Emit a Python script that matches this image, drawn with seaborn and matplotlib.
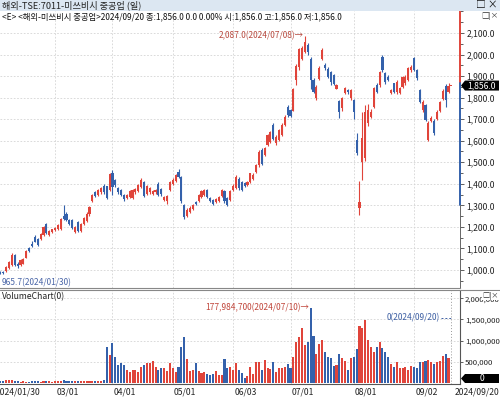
import numpy as np
import pandas as pd
import matplotlib
matplotlib.use("Agg")
import matplotlib.pyplot as plt
import matplotlib.ticker as mticker
import matplotlib.transforms as mtrans
from matplotlib.patches import Polygon, Rectangle
from matplotlib.lines import Line2D
import seaborn as sns

# 거래일 (도쿄 휴장일 제외) 2024/01/30 ~ 2024/09/20
holidays = ["2024-02-12", "2024-02-23", "2024-03-20", "2024-04-29", "2024-05-03",
            "2024-05-06", "2024-07-15", "2024-08-12", "2024-09-16"]
days = pd.bdate_range("2024-01-30", "2024-09-20", freq="C", holidays=holidays)

opens = [985, 978, 992, 990, 995, 1010, 1025, 1068, 1030, 1025,
         1030, 1058, 1100, 1122, 1155, 1145, 1142, 1162, 1212, 1162,
         1175, 1185, 1190, 1190, 1250, 1262, 1230, 1230, 1175, 1222,
         1182, 1215, 1228, 1258, 1318, 1362, 1348, 1360, 1392, 1388,
         1372, 1450, 1418, 1380, 1370, 1348, 1335, 1340, 1332, 1360,
         1365, 1385, 1410, 1355, 1360, 1355, 1360, 1400, 1375, 1325,
         1320, 1370, 1400, 1415, 1455, 1430, 1300, 1250, 1270, 1285,
         1315, 1320, 1340, 1350, 1370, 1335, 1325, 1315, 1320, 1345,
         1365, 1335, 1325, 1371, 1379, 1422, 1410, 1405, 1394, 1410,
         1422, 1456, 1485, 1557, 1534, 1580, 1595, 1673, 1588, 1603,
         1626, 1673, 1758, 1742, 1740, 1880, 1940, 1981, 2013, 2044,
         1981, 1881, 1796, 1888, 1981, 1953, 1935, 1920, 1904, 1842,
         1786, 1750, 1820, 1835, 1796, 1789, 1603, 1286, 1503, 1520,
         1680, 1711, 1758, 1858, 1858, 1990, 1912, 1897, 1820, 1866,
         1827, 1820, 1851, 1866, 1882, 1928, 1982, 1928, 1835, 1742,
         1765, 1603, 1690, 1690, 1700, 1738, 1795, 1856, 1828, 1856]
highs = [995, 992, 996, 994, 1020, 1040, 1078, 1075, 1035, 1050,
         1055, 1092, 1105, 1135, 1162, 1150, 1172, 1205, 1218, 1185,
         1192, 1200, 1215, 1240, 1302, 1268, 1235, 1235, 1205, 1228,
         1220, 1245, 1268, 1298, 1352, 1368, 1375, 1385, 1398, 1392,
         1450, 1462, 1422, 1385, 1375, 1352, 1355, 1372, 1378, 1380,
         1400, 1428, 1415, 1395, 1385, 1372, 1378, 1408, 1380, 1345,
         1350, 1415, 1425, 1445, 1470, 1435, 1305, 1290, 1295, 1305,
         1320, 1355, 1370, 1375, 1375, 1340, 1330, 1335, 1345, 1375,
         1370, 1340, 1370, 1398, 1440, 1430, 1415, 1410, 1415, 1452,
         1448, 1490, 1555, 1565, 1570, 1632, 1645, 1680, 1625, 1655,
         1680, 1718, 1765, 1748, 1845, 1955, 2032, 2040, 2087, 2055,
         1990, 1890, 1858, 1945, 2028, 1960, 1940, 1925, 1910, 1862,
         1790, 1805, 1850, 1840, 1840, 1795, 1634, 1415, 1734, 1765,
         1770, 1745, 1850, 1870, 1925, 2000, 1918, 1905, 1840, 1870,
         1880, 1850, 1900, 1905, 1940, 1950, 1990, 1932, 1840, 1790,
         1770, 1690, 1715, 1700, 1742, 1785, 1840, 1862, 1868, 1856]
lows = [965.7, 972, 982, 980, 990, 1005, 1020, 1020, 1010, 1020,
        1028, 1055, 1082, 1105, 1128, 1112, 1138, 1158, 1165, 1158,
        1170, 1180, 1185, 1185, 1230, 1228, 1210, 1190, 1170, 1175,
        1178, 1210, 1222, 1252, 1315, 1338, 1345, 1355, 1355, 1330,
        1368, 1350, 1385, 1355, 1345, 1322, 1330, 1335, 1328, 1355,
        1360, 1380, 1340, 1350, 1355, 1350, 1355, 1345, 1345, 1320,
        1305, 1365, 1395, 1410, 1425, 1310, 1238, 1245, 1265, 1280,
        1300, 1315, 1335, 1345, 1335, 1315, 1300, 1310, 1315, 1340,
        1310, 1295, 1320, 1365, 1375, 1372, 1365, 1385, 1390, 1405,
        1418, 1450, 1480, 1485, 1528, 1575, 1590, 1605, 1580, 1598,
        1620, 1668, 1712, 1710, 1736, 1860, 1930, 1975, 2005, 2000,
        1842, 1820, 1790, 1882, 1975, 1930, 1890, 1858, 1858, 1838,
        1705, 1740, 1815, 1818, 1790, 1703, 1535, 1255, 1417, 1505,
        1670, 1705, 1750, 1820, 1850, 1920, 1865, 1875, 1815, 1820,
        1815, 1815, 1845, 1860, 1875, 1920, 1925, 1880, 1775, 1735,
        1690, 1598, 1685, 1625, 1695, 1732, 1788, 1755, 1822, 1856]
closes = [975, 988, 986, 985, 1015, 1035, 1070, 1025, 1018, 1045,
          1050, 1088, 1088, 1110, 1132, 1118, 1168, 1200, 1172, 1180,
          1188, 1195, 1210, 1235, 1235, 1232, 1215, 1195, 1200, 1180,
          1215, 1240, 1262, 1294, 1348, 1342, 1370, 1380, 1360, 1335,
          1445, 1385, 1395, 1360, 1350, 1328, 1350, 1365, 1372, 1375,
          1395, 1420, 1345, 1390, 1380, 1368, 1372, 1350, 1355, 1340,
          1345, 1410, 1420, 1440, 1430, 1320, 1245, 1280, 1290, 1300,
          1305, 1350, 1365, 1370, 1340, 1320, 1305, 1330, 1340, 1370,
          1320, 1300, 1365, 1391, 1433, 1379, 1371, 1390, 1410, 1448,
          1443, 1485, 1549, 1490, 1564, 1626, 1639, 1610, 1618, 1649,
          1673, 1711, 1719, 1716, 1840, 1945, 2025, 2028, 2059, 2013,
          1881, 1827, 1850, 1938, 2020, 1938, 1896, 1873, 1865, 1857,
          1735, 1797, 1843, 1825, 1835, 1734, 1541, 1317, 1611, 1734,
          1742, 1734, 1843, 1827, 1920, 1928, 1874, 1882, 1835, 1827,
          1874, 1843, 1897, 1897, 1936, 1943, 1928, 1889, 1781, 1781,
          1696, 1680, 1705, 1635, 1735, 1778, 1832, 1790, 1852, 1856]
volumes = [60000, 55000, 45000, 50000, 75000, 80000, 70000, 55000, 40000, 35000,
           40000, 35000, 30000, 40000, 45000, 40000, 35000, 45000, 50000, 40000,
           35000, 40000, 38000, 45000, 60000, 55000, 45000, 50000, 42000, 45000,
           40000, 38000, 42000, 48000, 50000, 45000, 48000, 40000, 60000, 841000,
           660000, 936000, 620000, 425000, 464000, 425000, 306000, 267000, 306000, 306000,
           252000, 385000, 425000, 464000, 464000, 519000, 385000, 306000, 346000, 346000,
           283000, 464000, 346000, 252000, 385000, 856000, 1093000, 566000, 283000, 306000,
           464000, 283000, 228000, 267000, 204000, 189000, 204000, 283000, 189000, 189000,
           566000, 346000, 385000, 306000, 464000, 306000, 228000, 126000, 173000, 385000,
           204000, 488000, 488000, 306000, 543000, 362000, 340000, 488000, 252000, 362000,
           346000, 385000, 440000, 362000, 620000, 975000, 1093000, 1305000, 896000, 975000,
           1776000, 1116000, 676000, 912000, 1014000, 723000, 620000, 581000, 409000, 425000,
           676000, 597000, 519000, 306000, 597000, 620000, 794000, 1344000, 1305000, 1486000,
           1014000, 856000, 739000, 856000, 959000, 833000, 739000, 620000, 440000, 385000,
           488000, 362000, 362000, 385000, 306000, 409000, 385000, 362000, 503000, 488000,
           519000, 543000, 503000, 440000, 503000, 519000, 645000, 676000, 597000, 0]

tick_dates = ["2024-01-30", "2024-03-01", "2024-04-01", "2024-05-01",
              "2024-06-03", "2024-07-01", "2024-08-01", "2024-09-02"]
tick_labels = ["2024/01/30", "03/01", "04/01", "05/01", "06/03", "07/01", "08/01", "09/02"]

RED = "#e0443a"
BLUE = "#3461ab"
GRID = "#d4d4d4"

df = pd.DataFrame({"i": np.arange(len(days)), "open": opens, "high": highs,
                   "low": lows, "close": closes, "volume": volumes})
df["dir"] = np.where(df["close"] >= df["open"], "up", "down")
tick_pos = [days.get_loc(pd.Timestamp(d)) for d in tick_dates]
last = len(days) - 1

sns.set_theme(style="white")
plt.rcParams["font.family"] = ["Noto Sans CJK KR", "DejaVu Sans"]
plt.rcParams["axes.unicode_minus"] = False

W, H = 500, 399
fig = plt.figure(figsize=(W / 100, H / 100), dpi=100)


def box(x0, y0, x1, y1):
    return [x0 / W, 1 - y1 / H, (x1 - x0) / W, (y1 - y0) / H]


def fx(x):
    return x / W


def fy(y):
    return 1 - y / H


def tag(x0, x1, yc, h, text):
    pts = [(x0, yc), (x0 + 4, yc - h / 2), (x1, yc - h / 2), (x1, yc + h / 2), (x0 + 4, yc + h / 2)]
    fig.patches.append(Polygon([(fx(a), fy(b)) for a, b in pts], closed=True,
                               transform=fig.transFigure, fc="black", ec="none"))
    fig.text(fx((x0 + x1) / 2 + 2), fy(yc), text, ha="center", va="center",
             color="white", fontsize=6.2)


# 제목 줄
fig.patches.append(Rectangle((0, fy(11)), 1, 11 / H, transform=fig.transFigure,
                             fc="#dce7f2", ec="none"))
fig.text(fx(2), fy(5.5), "해외-TSE:7011-미쓰비시 중공업 (일)", fontsize=6.6,
         va="center", color="#222")
fig.text(fx(498), fy(5.5), "□ ×", fontsize=7, va="center", ha="right", color="#111")

ax = fig.add_axes(box(0, 11, 460, 288))
axv = fig.add_axes(box(0, 290, 460, 384))

# 캔들
cols = df["dir"].map({"up": RED, "down": BLUE})
ax.vlines(df["i"], df["low"], df["high"], colors=cols, lw=0.8)
bottom = df[["open", "close"]].min(axis=1)
height = (df["close"] - df["open"]).abs().clip(lower=3)
ax.bar(df["i"], height, bottom=bottom, width=0.74, color=cols, lw=0)

ax.set_xlim(1.85, 162.0)
ax.set_ylim(916.5, 2202)
ax.set_yticks(np.arange(1000, 2101, 100))
ax.yaxis.set_minor_locator(mticker.MultipleLocator(50))
ax.yaxis.set_major_formatter(mticker.FuncFormatter(lambda v, p: f"{v:,.1f}"))
ax.yaxis.tick_right()
ax.tick_params(axis="y", which="major", length=3, width=0.6, color="#444",
               labelsize=6.2, labelcolor="#222", pad=1.5)
ax.tick_params(axis="y", which="minor", length=2, width=0.6, color="#444")
ax.set_xticks(tick_pos)
ax.tick_params(axis="x", length=0, labelbottom=False)
ax.grid(True, which="major", color=GRID, lw=0.6, ls=(0, (2, 2)))
for s in ["top", "left", "right"]:
    ax.spines[s].set_visible(False)
ax.spines["bottom"].set_color("#888")
ax.spines["bottom"].set_linewidth(0.8)

yt = ax.get_yaxis_transform()
ax.plot([1, 1], [1868, 2202], transform=yt, color=RED, lw=1.4, clip_on=False)
ax.plot([1, 1], [1300, 1868], transform=yt, color=BLUE, lw=1.4, clip_on=False)
ax.plot([1, 1], [916.5, 1300], transform=yt, color="#666", lw=0.7, clip_on=False)
ax.set_xlim(1.85, 162.0)
ax.set_ylim(916.5, 2202)

ax.text(108 - 0.4, 2087, "2,087.0(2024/07/08)→", ha="right", va="center",
        fontsize=6, color="#b8493e")
ax.text(0.003, 940, "965.7(2024/01/30)", transform=yt, ha="left", va="center",
        fontsize=6, color="#4a66a8")

fig.text(fx(2), fy(16.5),
         "<E> <해외-미쓰비시 중공업>2024/09/20 종:1,856.0 0.0 0.00% 시:1,856.0 고:1,856.0 저:1,856.0",
         fontsize=6.0, va="center", color="#111")
fig.text(fx(498), fy(16), "□|×", fontsize=5.5, ha="right", va="center", color="#333")

# 거래량
sns.barplot(data=df, x="i", y="volume", hue="dir", palette={"up": RED, "down": BLUE},
            native_scale=True, width=0.72, dodge=False, saturation=1, errorbar=None,
            legend=False, linewidth=0, ax=axv)
axv.set_xlabel("")
axv.set_ylabel("")
axv.set_xlim(1.85, 162.0)
axv.set_ylim(-23600, 2193000)
axv.set_yticks([500000, 1000000, 1500000, 2000000])
axv.yaxis.set_major_formatter(mticker.FuncFormatter(lambda v, p: f"{v:,.0f}"))
axv.yaxis.tick_right()
axv.tick_params(axis="y", length=2.5, width=0.6, color="#444", labelsize=5.6,
                labelcolor="#222", pad=1)
axv.set_xticks(tick_pos)
axv.set_xticklabels([])
axv.tick_params(axis="x", length=4, width=0.6, color="#444", direction="out")
axv.grid(True, color=GRID, lw=0.6, ls=(0, (2, 2)))
for s in ["top", "left"]:
    axv.spines[s].set_visible(False)
for s in ["bottom", "right"]:
    axv.spines[s].set_color("#555")
    axv.spines[s].set_linewidth(0.8)

axv.axvline(last, color="#999", lw=0.7, ls=(0, (1, 2)))
axv.text(110 - 0.4, 1776000, "177,984,700(2024/07/10)→", ha="right", va="center",
         fontsize=6, color="#c0453a")
axv.text(155.0, 1533000, "0(2024/09/20)", ha="right", va="center", fontsize=6, color="#3d5fa3")
axv.plot([155.3, 158.8], [1533000, 1533000], ls=(0, (2, 2)), color="#3d5fa3", lw=0.7)
axv.set_xlim(1.85, 162.0)
axv.set_ylim(-23600, 2193000)

bt = mtrans.blended_transform_factory(axv.transData, axv.transAxes)
for p, lab in zip(tick_pos, tick_labels):
    axv.text(p + 0.4, -0.09, lab, transform=bt, ha="left", va="center",
             fontsize=6.2, color="#222", clip_on=False)
fig.text(fx(499), fy(392.5), "2024/09/20", ha="right", va="center", fontsize=6.2, color="#222")

fig.text(fx(2), fy(297), "VolumeChart(0)", fontsize=6.2, va="center", color="#222")
fig.text(fx(499), fy(295.5), "□|×", fontsize=5.2, ha="right", va="center", color="#333",
         bbox=dict(boxstyle="square,pad=0.1", fc="white", ec="none"))

fig.lines.append(Line2D([0, 1], [fy(289.5), fy(289.5)], transform=fig.transFigure,
                        color="#888", lw=0.8))

# 현재가 표시
fig.canvas.draw()
py = ax.transData.transform((100, 1856))[1]
tag(461, 499, H - py, 10, "1,856.0")
tag(461, 499, 378.5, 9, "0")

fig.savefig("out.png", dpi=100)
